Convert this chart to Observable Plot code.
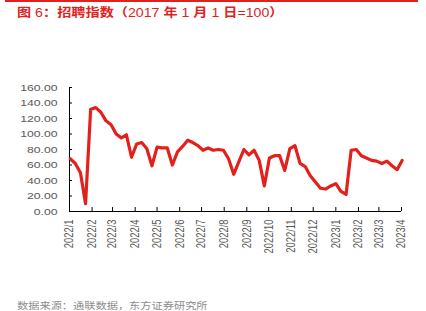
<!DOCTYPE html>
<html><head><meta charset="utf-8">
<script src="https://cdn.jsdelivr.net/npm/d3@7"></script>
<script src="https://cdn.jsdelivr.net/npm/@observablehq/plot@0.6"></script>
<style>
body{margin:0;background:#fff;width:426px;height:311px;overflow:hidden;position:relative;}
#rule{position:absolute;left:5px;top:0;width:413px;height:1.5px;background:#e3211c;}
#title{position:absolute;left:17px;top:5px;font-family:"Liberation Sans","Noto Sans CJK SC";font-weight:bold;font-size:12px;line-height:16px;color:#e3211c;transform:scaleX(1.18);transform-origin:0 0;white-space:nowrap;}
#title span{font-weight:normal;}
#chart{position:absolute;left:0;top:26px;}
#caption{position:absolute;left:17px;top:298px;font-family:"Noto Sans CJK SC";font-size:9.5px;line-height:14px;color:#8c8c8c;transform:scaleX(1.18);transform-origin:0 0;white-space:nowrap;}
</style></head>
<body>
<div id="rule"></div>
<div id="title">图 <span>6</span>：招聘指数（<span>2017</span> 年 <span>1</span> 月 <span>1</span> 日<span>=100</span>）</div>
<div id="chart"></div>
<div id="caption">数据来源：通联数据，东方证券研究所</div>
<script>
const weeks = ["2022-01-02","2022-01-09","2022-01-16","2022-01-23","2022-01-30","2022-02-06","2022-02-13","2022-02-20","2022-02-27","2022-03-06","2022-03-13","2022-03-20","2022-03-27","2022-04-03","2022-04-10","2022-04-17","2022-04-24","2022-05-01","2022-05-08","2022-05-15","2022-05-22","2022-05-29","2022-06-05","2022-06-12","2022-06-19","2022-06-26","2022-07-03","2022-07-10","2022-07-17","2022-07-24","2022-07-31","2022-08-07","2022-08-14","2022-08-21","2022-08-28","2022-09-04","2022-09-11","2022-09-18","2022-09-25","2022-10-02","2022-10-09","2022-10-16","2022-10-23","2022-10-30","2022-11-06","2022-11-13","2022-11-20","2022-11-27","2022-12-04","2022-12-11","2022-12-18","2022-12-25","2023-01-01","2023-01-08","2023-01-15","2023-01-22","2023-01-29","2023-02-05","2023-02-12","2023-02-19","2023-02-26","2023-03-05","2023-03-12","2023-03-19","2023-03-26","2023-04-02"];
const hiringIndex = [68,62,50,10,132,134,128,117,112,100,95,99,70,87,89,81,59,83,82,82,60,77,84,92,89,85,79,82,79,80,79,68,48,64,80,73,79,66,33,69,72,72,53,81,85,62,58,46,38,30,29,33,36,26,22,79,80,72,69,66,65,62,65,59,54,66];
const yTicks = [0,20,40,60,80,100,120,140,160];
const monthTicks = ["2022-01-01","2022-02-01","2022-03-01","2022-04-01","2022-05-01","2022-06-01","2022-07-01","2022-08-01","2022-09-01","2022-10-01","2022-11-01","2022-12-01","2023-01-01","2023-02-01","2023-03-01","2023-04-01"];
const monthLabels = ["2022/1","2022/2","2022/3","2022/4","2022/5","2022/6","2022/7","2022/8","2022/9","2022/10","2022/11","2022/12","2023/1","2023/2","2023/3","2023/4"];

const data = weeks.map((w, i) => ({date: new Date(w), value: hiringIndex[i]}));
const tickDates = monthTicks.map(d => new Date(d));
const labelOf = new Map(tickDates.map((d, i) => [+d, monthLabels[i]]));

const chart = Plot.plot({
  width: 426, height: 268,
  marginLeft: 69, marginRight: 25, marginTop: 61, marginBottom: 83,
  style: {fontFamily: "'Liberation Sans', Arial, sans-serif", fontSize: "9.4px", background: "transparent", overflow: "visible"},
  x: {type: "utc", domain: [tickDates[0], tickDates[tickDates.length - 1]]},
  y: {domain: [0, 160]},
  marks: [
    Plot.axisY({ticks: yTicks, tickFormat: d => d.toFixed(2), tickSize: -3, tickPadding: 15, stroke: "#000", fill: "#595959", label: null}),
    Plot.axisX({ticks: tickDates, tickFormat: d => labelOf.get(+d), tickSize: -4, tickPadding: 12, tickRotate: -90, stroke: "#000", fill: "#595959", label: null}),
    Plot.ruleX([tickDates[0]], {stroke: "#000"}),
    Plot.ruleY([0], {stroke: "#000"}),
    Plot.lineY(data, {x: "date", y: "value", stroke: "#e3211c", strokeWidth: 3.2, strokeLinejoin: "round"})
  ]
});
d3.select(chart).selectAll("text").each(function () {
  const t = this.getAttribute("transform");
  if (!t) return;
  this.setAttribute("transform", t + (t.includes("rotate") ? " scale(1,1.3)" : " scale(1.3,1)"));
});
document.getElementById("chart").append(chart);
</script>
</body></html>
